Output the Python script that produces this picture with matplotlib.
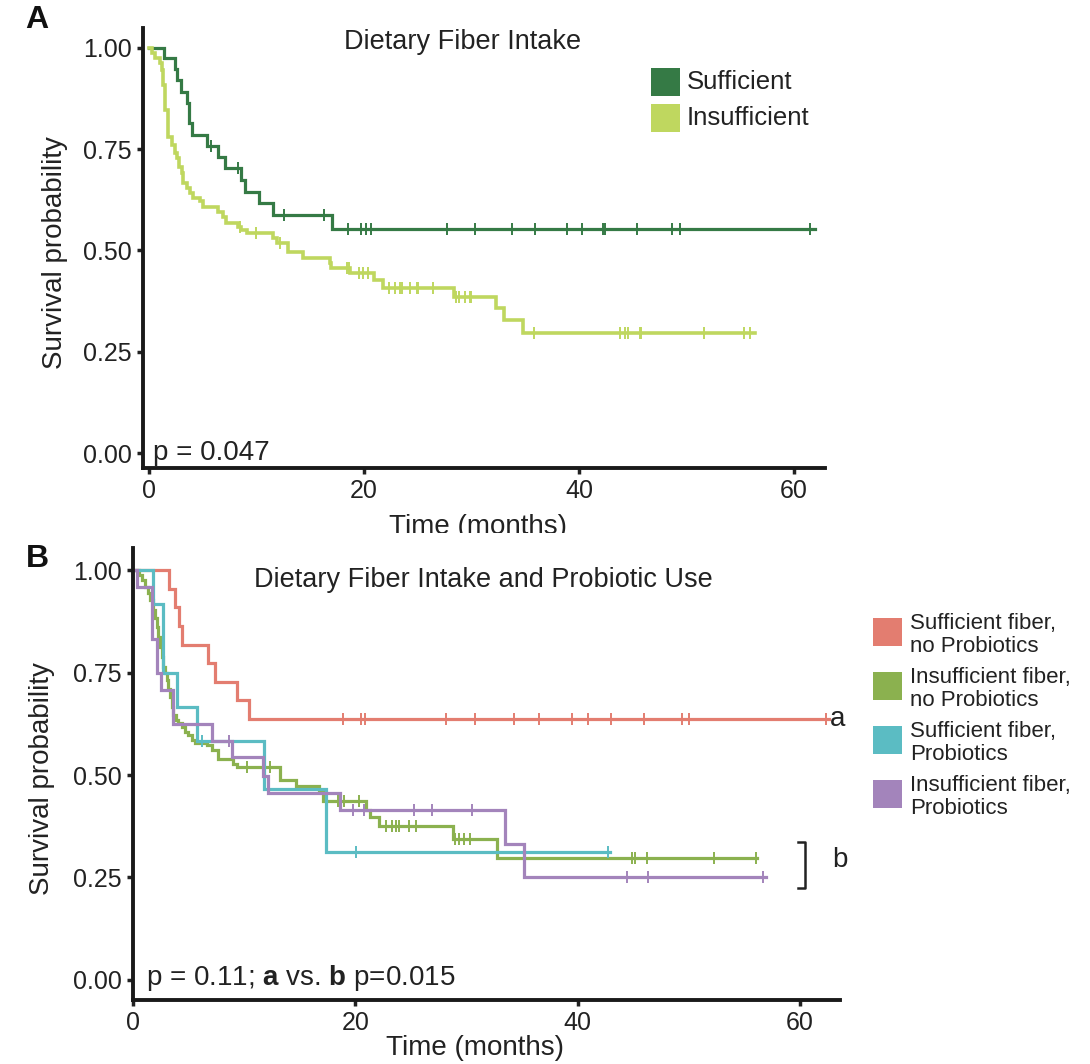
import numpy as np
import matplotlib
matplotlib.use("Agg")
import matplotlib.pyplot as plt
from matplotlib.patches import Rectangle

plt.rcParams['font.family'] = ['Liberation Sans', 'DejaVu Sans']
plt.rcParams['mathtext.fontset'] = 'custom'
plt.rcParams['mathtext.rm'] = 'Liberation Sans'
plt.rcParams['mathtext.bf'] = 'Liberation Sans:bold'

# ---- Panel A: dietary fiber intake ----
suff_t = [0, 1.4, 2.4, 2.6, 3.0, 3.5, 3.75, 4.0, 5.4, 6.45, 7.07, 8.6, 8.9, 10.2, 11.5, 17.0, 62.0]
suff_s = [1.0, 0.975, 0.947, 0.921, 0.892, 0.865, 0.814, 0.785, 0.758, 0.730, 0.703, 0.674, 0.645,
          0.617, 0.588, 0.553, 0.553]
suff_c = [5.8, 8.3, 12.6, 16.3, 18.5, 19.7, 20.2, 20.7, 27.7, 30.3, 33.8, 35.9, 38.9, 40.3, 42.2,
          42.4, 45.4, 48.7, 49.4, 61.5]

insuff_t = [0, 0.25, 0.56, 1.02, 1.18, 1.33, 1.49, 1.8, 2.11, 2.42, 2.57, 2.82, 3.04, 3.19, 3.5, 3.81,
            4.12, 4.74, 5.05, 6.45, 6.91, 7.2, 8.3, 8.6, 9.1, 11.56, 11.9, 12.96, 14.35, 16.8, 16.9,
            18.7, 20.9, 21.8, 28.4, 32.3, 33.0, 34.8, 56.4]
insuff_s = [1.0, 0.987, 0.975, 0.962, 0.946, 0.909, 0.847, 0.781, 0.760, 0.740, 0.728, 0.707, 0.690,
            0.666, 0.654, 0.641, 0.629, 0.621, 0.608, 0.596, 0.583, 0.567, 0.559, 0.551, 0.542, 0.530,
            0.518, 0.497, 0.481, 0.468, 0.456, 0.445, 0.427, 0.407, 0.386, 0.357, 0.328, 0.297, 0.297]
insuff_c = [8.5, 9.95, 12.2, 18.4, 18.6, 19.5, 19.9, 20.4, 22.35, 22.9, 23.35, 23.5, 24.3, 24.9, 25.05,
            26.45, 28.6, 28.8, 29.4, 29.86, 30.0, 35.8, 43.8, 44.3, 44.6, 45.7, 45.8, 51.6, 55.35, 55.9]

# ---- Panel B: fiber intake and probiotic use ----
red_t = [0, 3.27, 3.78, 4.17, 4.38, 6.77, 7.37, 9.32, 10.46, 62.6]
red_s = [1.0, 0.955, 0.909, 0.864, 0.818, 0.773, 0.727, 0.682, 0.636, 0.636]
red_c = [18.9, 20.5, 20.9, 28.2, 30.8, 34.3, 36.5, 39.5, 40.9, 43.0, 46.0, 49.4, 50.0, 62.3]

green_t = [0, 0.5, 0.78, 1.08, 1.38, 1.53, 1.83, 1.98, 2.13, 2.28, 2.43, 2.58, 2.73, 2.88, 3.03, 3.18,
           3.33, 3.48, 3.63, 3.87, 4.08, 4.38, 4.68, 4.98, 5.28, 5.58, 6.63, 7.07, 7.67, 9.02, 9.32,
           13.2, 14.7, 16.7, 17.1, 20.95, 21.3, 22.1, 28.8, 32.7, 56.1]
green_s = [1.0, 0.988, 0.976, 0.959, 0.943, 0.927, 0.902, 0.882, 0.862, 0.837, 0.813, 0.789, 0.764,
           0.748, 0.732, 0.711, 0.691, 0.667, 0.646, 0.634, 0.626, 0.618, 0.606, 0.598, 0.585, 0.579,
           0.573, 0.561, 0.539, 0.528, 0.520, 0.488, 0.472, 0.459, 0.437, 0.415, 0.397, 0.376, 0.345,
           0.297, 0.297]
green_c = [10.3, 12.3, 18.4, 18.7, 19.0, 20.35, 22.75, 23.3, 23.65, 23.95, 24.8, 25.45, 28.96, 29.35,
           29.8, 30.3, 44.9, 45.2, 46.2, 52.3, 56.0]

cyan_t = [0, 1.77, 2.73, 3.99, 5.73, 11.8, 17.36, 42.9]
cyan_s = [1.0, 0.917, 0.75, 0.667, 0.583, 0.467, 0.311, 0.311]
cyan_c = [6.2, 20.1, 42.7]

purple_t = [0, 0.4, 1.68, 2.13, 2.49, 3.57, 7.07, 8.87, 11.66, 12.17, 18.6, 33.45, 35.2, 56.9]
purple_s = [1.0, 0.958, 0.833, 0.75, 0.708, 0.625, 0.583, 0.543, 0.498, 0.455, 0.415, 0.331, 0.25, 0.25]
purple_c = [8.66, 19.8, 20.8, 25.3, 26.9, 30.5, 44.4, 46.3, 56.7]

legend_a = ["Sufficient", "Insufficient"]
legend_b = ["Sufficient fiber,\nno Probiotics", "Insufficient fiber,\nno Probiotics",
            "Sufficient fiber,\nProbiotics", "Insufficient fiber,\nProbiotics"]
y_ticks = [0, 0.25, 0.5, 0.75, 1.0]
y_ticklabels = ["0.00", "0.25", "0.50", "0.75", "1.00"]
x_ticks = [0, 20, 40, 60]

col_a = ["#357a45", "#bfd75f"]
col_b = ["#e37d70", "#8bb14f", "#5bbcc3", "#a384bb"]
TXT = "#222222"

W, H = 1090, 1064


def fx(px):
    return px / W


def fy(py):
    return 1 - py / H


def km(ax, t, s, c, color, lw=2.3):
    ax.step(t, s, where="post", color=color, lw=lw, solid_joinstyle="miter")
    idx = np.searchsorted(t, c, side="right") - 1
    ax.plot(c, np.asarray(s)[idx], ls="none", marker="|", ms=8, mew=1.4, color=color)


def style(ax):
    for side in ["top", "right"]:
        ax.spines[side].set_visible(False)
    for side in ["left", "bottom"]:
        ax.spines[side].set_linewidth(2.8)
        ax.spines[side].set_color("#1a1a1a")
    ax.set_yticks(y_ticks)
    ax.set_yticklabels(y_ticklabels)
    ax.set_xticks(x_ticks)
    ax.tick_params(labelsize=18, colors=TXT, width=2.5, length=4, pad=4)
    ax.set_ylabel("Survival probability", fontsize=20, color=TXT)
    ax.set_xlabel("Time (months)", fontsize=20, color=TXT)


fig = plt.figure(figsize=(W / 100, H / 100), dpi=100)

# panel A
axA = fig.add_axes([fx(143), fy(468), fx(825) - fx(143), fy(28) - fy(468)])
km(axA, suff_t, suff_s, suff_c, col_a[0])
km(axA, insuff_t, insuff_s, insuff_c, col_a[1], lw=2.6)
axA.set_xlim(-0.56, 62.9)
axA.set_ylim(-0.037, 1.049)
style(axA)
axA.text(0.4, 0.0, "p = 0.047", fontsize=20, color=TXT, ha="left", va="center")
fig.text(fx(463), fy(42), "Dietary Fiber Intake", fontsize=19.5, color=TXT, ha="center", va="center")

# panel B
axB = fig.add_axes([fx(133), fy(1000), fx(840) - fx(133), fy(548) - fy(1000)])
for t, s, c, col in [(red_t, red_s, red_c, col_b[0]), (green_t, green_s, green_c, col_b[1]),
                     (cyan_t, cyan_s, cyan_c, col_b[2]), (purple_t, purple_s, purple_c, col_b[3])]:
    km(axB, t, s, c, col)
axB.set_xlim(0, 63.6)
axB.set_ylim(-0.049, 1.054)
style(axB)
axB.text(1.2, 0.005, r"p = 0.11; $\mathbf{a}$ vs. $\mathbf{b}$ p=0.015", fontsize=20, color=TXT,
         ha="left", va="center")
fig.text(fx(483), fy(580), "Dietary Fiber Intake and Probiotic Use", fontsize=19.5, color=TXT,
         ha="center", va="center")

# axis labels placed in figure coords
axA.yaxis.set_label_coords(fx(55), fy(253), transform=fig.transFigure)
axB.yaxis.set_label_coords(fx(42), fy(779), transform=fig.transFigure)
axA.xaxis.set_label_coords(fx(478), fy(527), transform=fig.transFigure)
axB.xaxis.set_label_coords(fx(475), fy(1048), transform=fig.transFigure)
for lab in [axA.xaxis.label, axB.xaxis.label, axA.yaxis.label, axB.yaxis.label]:
    lab.set_va("center")

# a / b annotations
fig.text(fx(838), fy(719), "a", fontsize=20, color=TXT, ha="center", va="center")
fig.text(fx(840), fy(860), "b", fontsize=20, color=TXT, ha="center", va="center")
fig.lines.append(plt.Line2D([fx(798), fx(805), fx(805), fx(798)], [fy(842), fy(842), fy(888), fy(888)],
                            color=TXT, lw=1.8, transform=fig.transFigure))

# legends
for i, (lab, col) in enumerate(zip(legend_a, col_a)):
    yc = 82 + i * 36
    fig.patches.append(Rectangle((fx(651), fy(yc + 14)), fx(680) - fx(651), fy(yc - 14) - fy(yc + 14),
                                 facecolor=col, edgecolor="none", transform=fig.transFigure))
    fig.text(fx(687), fy(yc), lab, fontsize=18.5, color=TXT, ha="left", va="center")

for i, (lab, col) in enumerate(zip(legend_b, col_b)):
    yc = 632 + i * 54
    fig.patches.append(Rectangle((fx(873), fy(yc + 14)), fx(902) - fx(873), fy(yc - 14) - fy(yc + 14),
                                 facecolor=col, edgecolor="none", transform=fig.transFigure))
    fig.text(fx(910), fy(yc + 3), lab, fontsize=16, color=TXT, ha="left", va="center",
             linespacing=1.1)

# panel letters
fig.text(fx(37), fy(20), "A", fontsize=23, fontweight="bold", color="#111111", ha="center", va="center")
fig.text(fx(37), fy(559), "B", fontsize=23, fontweight="bold", color="#111111", ha="center", va="center")

# panel A x label is cut off by panel B in the original
fig.patches.append(Rectangle((fx(360), fy(546)), fx(610) - fx(360), fy(533) - fy(546),
                             facecolor="white", edgecolor="none", transform=fig.transFigure, zorder=5))

fig.savefig("out.png", dpi=100)
